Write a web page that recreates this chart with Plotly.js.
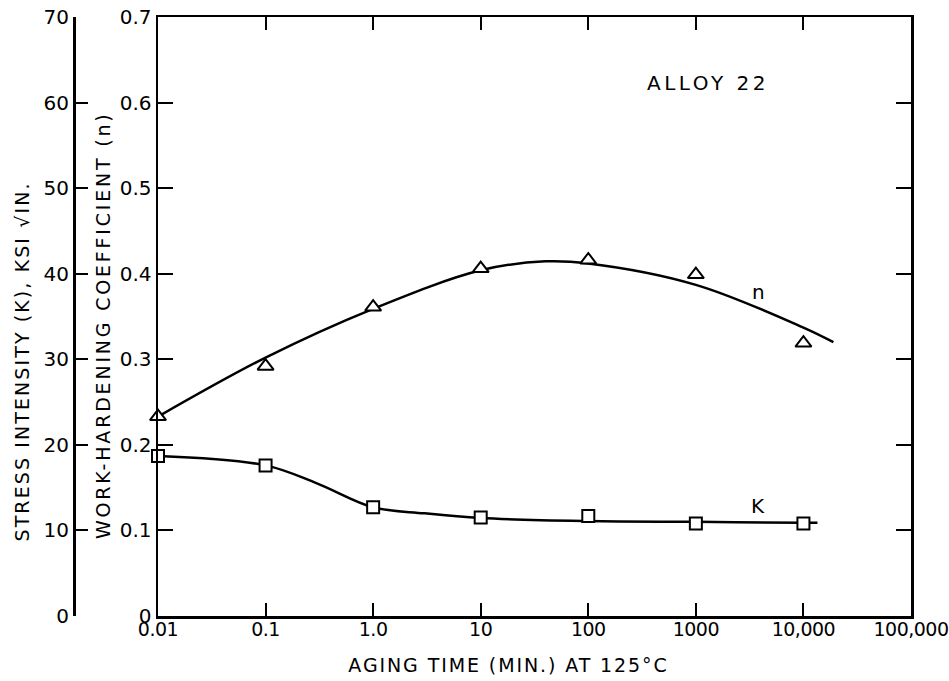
<!DOCTYPE html>
<html>
<head>
<meta charset="utf-8">
<script src="https://cdn.plot.ly/plotly-3.0.1.min.js"></script>
<style>
html,body{margin:0;padding:0;background:#fff;}
#chart{width:949px;height:681px;}
g.annotation[data-index="0"] text{letter-spacing:3.5px;}
g.annotation[data-index="3"] text{letter-spacing:1.9px;}
g.annotation[data-index="4"] text{letter-spacing:2.8px;}
g.annotation[data-index="5"] text{letter-spacing:2.1px;}
g.xtick text{letter-spacing:-0.5px;}
</style>
</head>
<body>
<div id="chart"></div>
<script>
// Aging time (min) at which measurements were taken
const agingTime = [0.01, 0.1, 1, 10, 100, 1000, 10000];
// Work-hardening coefficient n (triangles)
const nValues = [0.233, 0.292, 0.361, 0.406, 0.416, 0.399, 0.319];
// Stress intensity K, ksi sqrt(in) (squares)
const kValues = [18.7, 17.6, 12.7, 11.5, 11.7, 10.8, 10.8];
// Smooth fitted curve for n
const nCurveTime = [0.01, 0.1, 1, 10, 40, 100, 1000, 10000, 19000];
const nCurveValues = [0.233, 0.302, 0.359, 0.404, 0.4145, 0.412, 0.387, 0.337, 0.320];
// Smooth fitted curve for K
const kCurveTime = [0.01, 0.1, 0.3, 1, 3, 10, 100, 1000, 10000, 13500];
const kCurveValues = [18.7, 17.6, 15.5, 12.7, 12.0, 11.45, 11.1, 11.0, 10.9, 10.9];
// Axis ticks
const xTickVals = [0.01, 0.1, 1, 10, 100, 1000, 10000, 100000];
const xTickText = ["0.01", "0.1", "1.0", "10", "100", "1000", "10,000", "100,000"];
const nTickVals = [0, 0.1, 0.2, 0.3, 0.4, 0.5, 0.6, 0.7];
const nTickText = ["0", "0.1", "0.2", "0.3", "0.4", "0.5", "0.6", "0.7"];
const kTickVals = [0, 10, 20, 30, 40, 50, 60, 70];
const kTickText = ["0", "10", "20", "30", "40", "50", "60", "70"];

const W = 949, H = 681;
const FONT = "DejaVu Sans, Liberation Sans, sans-serif";
const px = v => v / W;
const py = v => 1 - v / H;

const traces = [
  {x: nCurveTime, y: nCurveValues, xaxis: 'x', yaxis: 'y', mode: 'lines',
   line: {color: '#000', width: 2.5, shape: 'spline', smoothing: 1}, hoverinfo: 'skip', cliponaxis: false},
  {x: kCurveTime, y: kCurveValues, xaxis: 'x', yaxis: 'y2', mode: 'lines',
   line: {color: '#000', width: 2.5, shape: 'spline', smoothing: 1}, hoverinfo: 'skip', cliponaxis: false},
  {x: agingTime, y: nValues, xaxis: 'x', yaxis: 'y', mode: 'markers', cliponaxis: false,
   marker: {symbol: 'triangle-up', size: 14, color: '#fff', line: {color: '#000', width: 2}}},
  {x: agingTime, y: kValues, xaxis: 'x', yaxis: 'y2', mode: 'markers', cliponaxis: false,
   marker: {symbol: 'square', size: 12, color: '#fff', line: {color: '#000', width: 2}}}
];

const x0 = 158, x1 = 911, yTop = 17, yBot = 616;
const tickFont = {family: FONT, size: 20, color: '#000'};

const layout = {
  width: W, height: H,
  margin: {l: 0, r: 0, t: 0, b: 0},
  paper_bgcolor: '#fff', plot_bgcolor: '#fff',
  showlegend: false,
  font: {family: FONT, color: '#000', size: 18},
  xaxis: {
    type: 'log', range: [-2, 5], domain: [px(x0), px(x1)], automargin: false,
    tickvals: xTickVals, ticktext: xTickText,
    ticks: 'inside', ticklen: 13, tickwidth: 2, tickcolor: '#000',
    showline: true, linewidth: 2.5, linecolor: '#000', mirror: 'ticks',
    showgrid: false, zeroline: false, ticklabelstandoff: -5,
    ticklabeloverflow: 'allow',
    tickfont: {family: FONT, size: 19, color: '#000'}
  },
  yaxis: {
    range: [0, 0.7], domain: [py(yBot), py(yTop)], automargin: false,
    tickvals: nTickVals, ticktext: nTickText,
    ticks: 'inside', ticklen: 15, tickwidth: 2, tickcolor: '#000',
    showline: true, linewidth: 2.5, linecolor: '#000', mirror: 'ticks',
    showgrid: false, zeroline: false,
    tickfont: tickFont
  },
  yaxis2: {
    range: [0, 70], overlaying: 'y', anchor: 'free', position: px(74), side: 'left', automargin: false,
    tickvals: kTickVals, ticktext: kTickText,
    ticks: 'inside', ticklen: 12, tickwidth: 2, tickcolor: '#000',
    showline: true, linewidth: 2.5, linecolor: '#000',
    showgrid: false, zeroline: false,
    tickfont: tickFont
  },
  annotations: [
    {text: 'ALLOY 22', xref: 'paper', yref: 'paper', x: px(708), y: py(83), xanchor: 'center', yanchor: 'middle',
     showarrow: false, font: {family: FONT, size: 20, color: '#000'}},
    {text: 'n', xref: 'paper', yref: 'paper', x: px(758), y: py(292), xanchor: 'center', yanchor: 'middle',
     showarrow: false, font: {family: FONT, size: 20, color: '#000'}},
    {text: 'K', xref: 'paper', yref: 'paper', x: px(758), y: py(506), xanchor: 'center', yanchor: 'middle',
     showarrow: false, font: {family: FONT, size: 20, color: '#000'}},
    {text: 'AGING TIME (MIN.) AT 125°C', xref: 'paper', yref: 'paper', x: px(508), y: py(665), xanchor: 'center', yanchor: 'middle',
     showarrow: false, font: {family: FONT, size: 19, color: '#000'}},
    {text: 'WORK-HARDENING COEFFICIENT (n)', xref: 'paper', yref: 'paper', x: px(103), y: py(326), xanchor: 'center', yanchor: 'middle',
     showarrow: false, textangle: -90, font: {family: FONT, size: 19, color: '#000'}},
    {text: 'STRESS INTENSITY (K), KSI √IN.', xref: 'paper', yref: 'paper', x: px(22), y: py(362), xanchor: 'center', yanchor: 'middle',
     showarrow: false, textangle: -90, font: {family: FONT, size: 19, color: '#000'}}
  ]
};

Plotly.newPlot('chart', traces, layout, {displayModeBar: false, staticPlot: true});
</script>
</body>
</html>
